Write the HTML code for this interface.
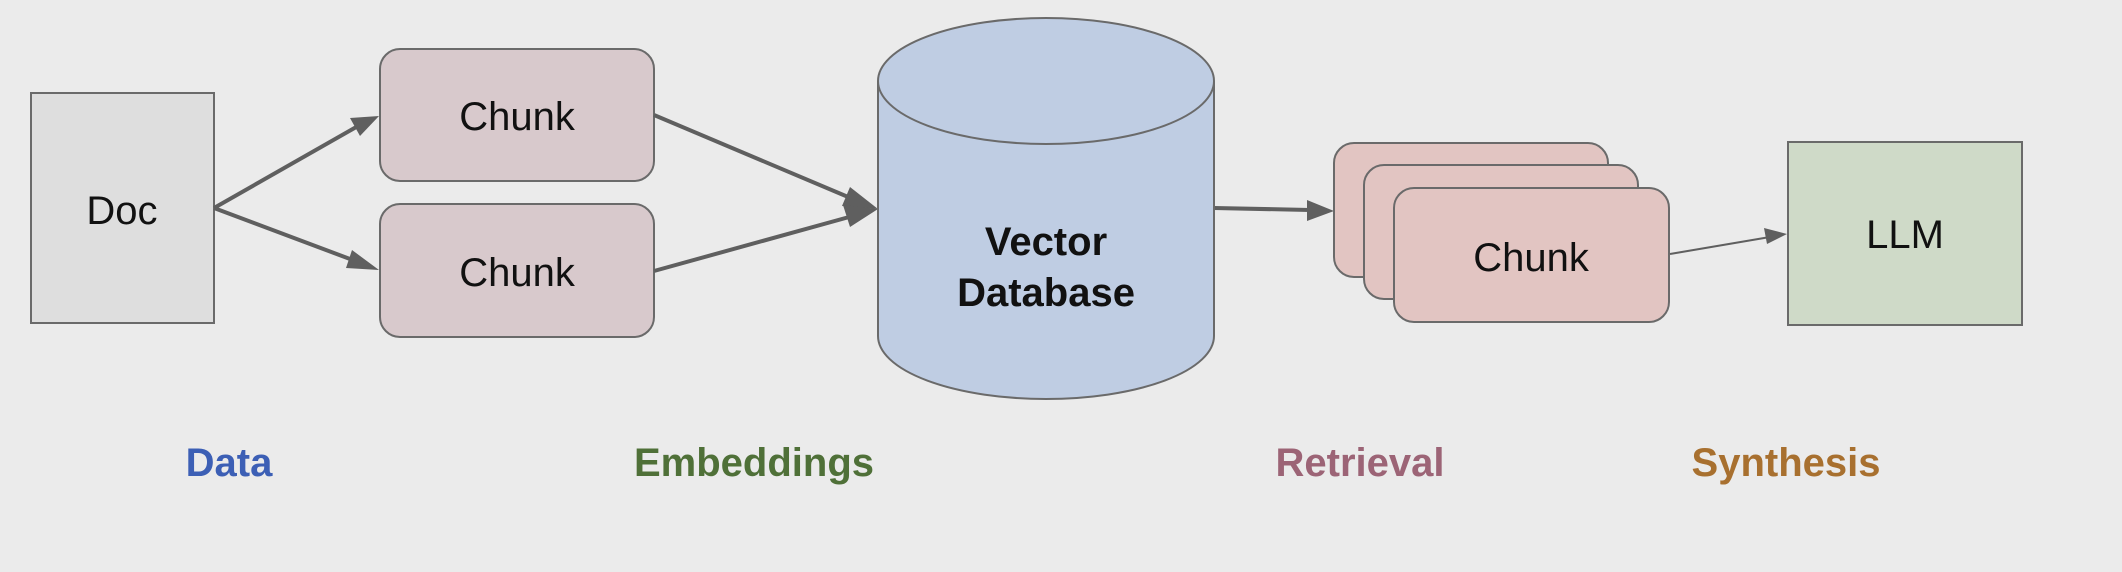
<!DOCTYPE html>
<html><head><meta charset="utf-8"><style>
html,body{margin:0;padding:0;background:#ebebeb;}
svg{display:block;}
text{font-family:"Liberation Sans",Arial,sans-serif;}
</style></head><body>
<svg width="2122" height="572" viewBox="0 0 2122 572" xmlns="http://www.w3.org/2000/svg">
<defs>
<marker id="ah" markerWidth="10" markerHeight="10" refX="9" refY="5" orient="auto" markerUnits="userSpaceOnUse">
</marker>
</defs>
<rect width="2122" height="572" fill="#ebebeb"/>
<!-- Doc -->
<rect x="31" y="93" width="183" height="230" fill="#dedede" stroke="#6a6a6a" stroke-width="2"/>
<text x="122" y="224" font-size="40" text-anchor="middle" fill="#111">Doc</text>
<!-- Chunks -->
<rect x="380" y="49" width="274" height="132" rx="20" fill="#d8c9cc" stroke="#6a6a6a" stroke-width="2"/>
<text x="517" y="130" font-size="40" text-anchor="middle" fill="#111">Chunk</text>
<rect x="380" y="204" width="274" height="133" rx="20" fill="#d8c9cc" stroke="#6a6a6a" stroke-width="2"/>
<text x="517" y="286" font-size="40" text-anchor="middle" fill="#111">Chunk</text>
<!-- arrows doc->chunks -->
<g stroke="#5f5f5f" stroke-width="4" fill="#5f5f5f">
<line x1="214" y1="208" x2="358" y2="126"/>
<polygon points="379,116 350,118 360,136" stroke="none"/>
<line x1="214" y1="208" x2="358" y2="262"/>
<polygon points="379,270 352,250 346,268" stroke="none"/>
<line x1="654" y1="115" x2="860" y2="202"/>
<line x1="654" y1="271" x2="860" y2="214"/>
<polygon points="878,209 850,187 842,206" stroke="none"/>
<polygon points="878,209 843,205 850,227" stroke="none"/>
<line x1="1214" y1="208" x2="1310" y2="210"/>
<polygon points="1334,211 1307,200 1307,221" stroke="none"/>
</g>
<!-- cylinder -->
<path d="M878,81 L878,336 A168,63 0 0 0 1214,336 L1214,81" fill="#bfcde3" stroke="#6a6a6a" stroke-width="2"/>
<ellipse cx="1046" cy="81" rx="168" ry="63" fill="#bfcde3" stroke="#6a6a6a" stroke-width="2"/>
<text x="1046" y="255" font-size="40" font-weight="bold" text-anchor="middle" fill="#111">Vector</text>
<text x="1046" y="306" font-size="40" font-weight="bold" text-anchor="middle" fill="#111">Database</text>
<!-- stacked chunks -->
<rect x="1334" y="143" width="274" height="134" rx="20" fill="#e2c5c2" stroke="#6a6a6a" stroke-width="2"/>
<rect x="1364" y="165" width="274" height="134" rx="20" fill="#e2c5c2" stroke="#6a6a6a" stroke-width="2"/>
<rect x="1394" y="188" width="275" height="134" rx="20" fill="#e2c5c2" stroke="#6a6a6a" stroke-width="2"/>
<text x="1531" y="271" font-size="40" text-anchor="middle" fill="#111">Chunk</text>
<!-- arrow to LLM -->
<line x1="1670" y1="254" x2="1770" y2="237" stroke="#5f5f5f" stroke-width="2"/>
<polygon points="1787,234 1764,228 1767,244" fill="#5f5f5f"/>
<!-- LLM -->
<rect x="1788" y="142" width="234" height="183" fill="#cfdac8" stroke="#6a6a6a" stroke-width="2"/>
<text x="1905" y="248" font-size="40" text-anchor="middle" fill="#111">LLM</text>
<!-- labels -->
<g font-size="40" font-weight="bold" text-anchor="middle">
<text x="229" y="476" fill="#3c5fb5">Data</text>
<text x="754" y="476" fill="#4f7038">Embeddings</text>
<text x="1360" y="476" fill="#9c6476">Retrieval</text>
<text x="1786" y="476" fill="#a8702f">Synthesis</text>
</g>
</svg>
</body></html>
